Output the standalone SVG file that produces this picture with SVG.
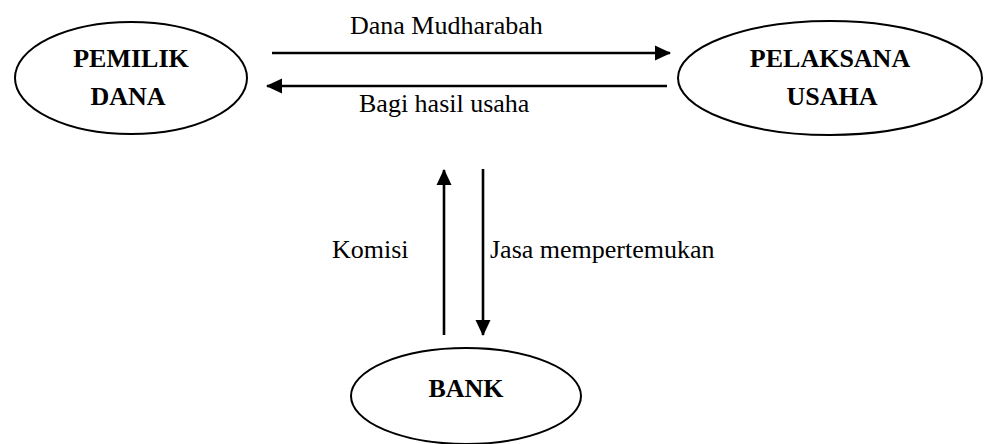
<svg xmlns="http://www.w3.org/2000/svg" width="984" height="444" viewBox="0 0 984 444">
  <style>
    .node { fill: #ffffff; stroke: #000000; stroke-width: 2; }
    .title { font-family: "Liberation Serif", "Times New Roman", serif; font-weight: bold; font-size: 26px; fill: #000000; text-anchor: middle; }
    .label { font-family: "Liberation Serif", "Times New Roman", serif; font-size: 26px; fill: #000000; }
    .flow { fill: none; stroke: #000000; stroke-width: 2.6; }
  </style>
  <defs>
    <marker id="head" markerUnits="userSpaceOnUse" markerWidth="16" markerHeight="16" viewBox="0 0 16 16" refX="15" refY="8" orient="auto">
      <path d="M0,0.5 L16,8 L0,15.5 Z" fill="#000000"/>
    </marker>
  </defs>

  <rect width="984" height="444" fill="#ffffff"/>

  <g id="pemilik-dana">
    <ellipse class="node" cx="131" cy="78" rx="116" ry="56"/>
    <text class="title" x="131" y="67">PEMILIK</text>
    <text class="title" x="128" y="105">DANA</text>
  </g>

  <g id="pelaksana-usaha">
    <ellipse class="node" cx="830" cy="78" rx="152" ry="57"/>
    <text class="title" x="830" y="67">PELAKSANA</text>
    <text class="title" x="832" y="105">USAHA</text>
  </g>

  <g id="bank">
    <ellipse class="node" cx="466" cy="396" rx="115" ry="48"/>
    <text class="title" x="466" y="397">BANK</text>
  </g>

  <g id="connectors">
    <line class="flow" x1="272" y1="53" x2="670" y2="53" marker-end="url(#head)"/>
    <line class="flow" x1="667" y1="86" x2="267" y2="86" marker-end="url(#head)"/>
    <line class="flow" x1="444" y1="335" x2="444" y2="170" marker-end="url(#head)"/>
    <line class="flow" x1="483" y1="169" x2="483" y2="335" marker-end="url(#head)"/>
    <text class="label" x="350" y="34">Dana Mudharabah</text>
    <text class="label" x="359" y="112">Bagi hasil usaha</text>
    <text class="label" x="332" y="258">Komisi</text>
    <text class="label" x="490" y="258">Jasa mempertemukan</text>
  </g>
</svg>
